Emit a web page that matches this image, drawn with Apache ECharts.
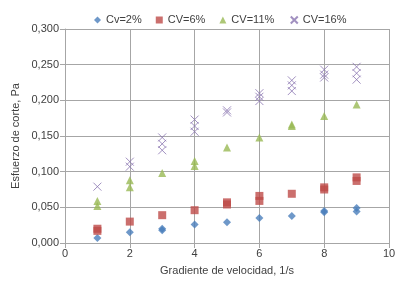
<!DOCTYPE html>
<html>
<head>
<meta charset="utf-8">
<script src="https://cdn.jsdelivr.net/npm/echarts@6/dist/echarts.min.js"></script>
<style>
  html, body { margin: 0; padding: 0; background: #fff; }
  #chart { width: 399px; height: 281px; }
</style>
</head>
<body>
<div id="chart"></div>
<script>
// datos: [gradiente, esfuerzo]
const cv2 = [[1, 0.007], [2, 0.015], [3, 0.018], [3, 0.020], [4, 0.026], [5, 0.029], [6, 0.035], [7, 0.038], [8, 0.045], [8, 0.043], [9, 0.049], [9, 0.044]];
const cv6 = [[1, 0.020], [1, 0.017], [2, 0.030], [3, 0.039], [4, 0.046], [5, 0.057], [5, 0.054], [6, 0.066], [6, 0.059], [7, 0.069], [8, 0.078], [8, 0.075], [9, 0.092], [9, 0.087]];
const cv11 = [[1, 0.059], [1, 0.052], [2, 0.088], [2, 0.078], [3, 0.098], [4, 0.115], [4, 0.108], [5, 0.134], [6, 0.148], [7, 0.166], [7, 0.164], [8, 0.178], [9, 0.194]];
const cv16 = [[1, 0.079], [2, 0.114], [2, 0.107], [3, 0.148], [3, 0.139], [3, 0.130], [4, 0.173], [4, 0.164], [4, 0.156], [5, 0.186], [5, 0.183], [6, 0.210], [6, 0.205], [6, 0.199], [7, 0.228], [7, 0.221], [7, 0.213], [8, 0.243], [8, 0.236], [8, 0.232], [9, 0.247], [9, 0.238], [9, 0.229]];
const names = ['Cv=2%', 'CV=6%', 'CV=11%', 'CV=16%'];

const crossPath = 'path://M0,0L10,10M10,0L0,10';
const txt = '#404040';
const gridCol = '#a6a6a6';

const myChart = echarts.init(document.getElementById('chart'));
myChart.setOption({
    animation: false,
    textStyle: { fontFamily: 'Liberation Sans, Arial, sans-serif' },
    legend: {
        top: 9, left: 89, itemGap: 14, itemWidth: 7, itemHeight: 7,
        textStyle: { fontSize: 11, color: txt },
        data: names
    },
    grid: { left: 65, right: 10, top: 29, bottom: 37 },
    xAxis: {
        type: 'value', min: 0, max: 10, interval: 2,
        name: 'Gradiente de velocidad, 1/s', nameLocation: 'middle', nameGap: 22,
        nameMoveOverlap: false,
        nameTextStyle: { fontSize: 11, color: txt },
        axisLine: { lineStyle: { color: gridCol } },
        axisTick: { show: true, lineStyle: { color: gridCol } },
        axisLabel: { fontSize: 11, color: txt, margin: 5 },
        splitLine: { show: true, lineStyle: { color: gridCol } }
    },
    yAxis: {
        type: 'value', min: 0, max: 0.3, interval: 0.05,
        name: 'Esfuerzo de corte, Pa', nameLocation: 'middle', nameGap: 44,
        nameMoveOverlap: false,
        nameTextStyle: { fontSize: 11, color: txt },
        axisLine: { show: true, lineStyle: { color: gridCol } },
        axisTick: { show: true, lineStyle: { color: gridCol } },
        axisLabel: { fontSize: 11, color: txt, margin: 6,
            formatter: v => v.toFixed(3).replace('.', ',') },
        splitLine: { show: true, lineStyle: { color: gridCol } }
    },
    series: [
        { name: names[0], type: 'scatter', data: cv2, symbol: 'diamond', symbolSize: 8,
          itemStyle: { color: '#4a7ebb' } },
        { name: names[1], type: 'scatter', data: cv6, symbol: 'rect', symbolSize: 8,
          itemStyle: { color: '#be4b48' } },
        { name: names[2], type: 'scatter', data: cv11, symbol: 'triangle', symbolSize: 8,
          itemStyle: { color: '#98b954' } },
        { name: names[3], type: 'scatter', data: cv16, symbol: crossPath, symbolSize: 8,
          itemStyle: { color: 'none', borderColor: '#8a74b0', borderWidth: 1 } }
    ]
});
</script>
</body>
</html>
